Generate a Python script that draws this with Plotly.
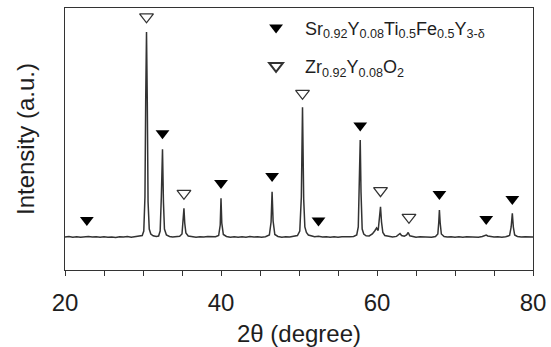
import plotly.graph_objects as go

# ---- data ----
two_theta = [20.0, 20.5, 21.0, 21.5, 22.0, 22.5, 23.0, 23.5, 24.0, 24.5, 25.0, 25.5, 26.0, 26.5,
             27.0, 27.5, 28.0, 28.5, 29.0, 29.5, 29.9, 30.1, 30.25, 30.35, 30.45, 30.55, 30.65,
             30.8, 31.0, 31.3, 31.7, 32.0, 32.2, 32.35, 32.5, 32.62, 32.75, 33.0, 33.4, 33.8,
             34.3, 34.7, 35.0, 35.15, 35.25, 35.35, 35.5, 35.8, 36.3, 36.8, 37.3, 37.8, 38.3,
             38.8, 39.3, 39.7, 39.9, 40.0, 40.1, 40.3, 40.7, 41.2, 41.7, 42.2, 42.7, 43.2, 43.7,
             44.2, 44.7, 45.2, 45.7, 46.2, 46.42, 46.55, 46.68, 46.9, 47.3, 47.8, 48.3, 48.8,
             49.3, 49.8, 50.1, 50.3, 50.45, 50.6, 50.75, 50.95, 51.2, 51.6, 52.0, 52.5, 53.0,
             53.5, 54.0, 54.5, 55.0, 55.5, 56.0, 56.5, 57.0, 57.4, 57.6, 57.75, 57.85, 57.95,
             58.1, 58.3, 58.6, 59.0, 59.4, 59.7, 59.95, 60.15, 60.3, 60.45, 60.58, 60.75, 61.0,
             61.5, 62.0, 62.5, 62.8, 62.95, 63.15, 63.5, 63.8, 64.0, 64.2, 64.6, 65.0, 65.5,
             66.0, 66.5, 67.0, 67.5, 67.8, 67.92, 68.0, 68.1, 68.25, 68.6, 69.0, 69.5, 70.0,
             70.5, 71.0, 71.5, 72.0, 72.5, 73.0, 73.5, 73.8, 74.0, 74.2, 74.6, 75.0, 75.5, 76.0,
             76.5, 77.0, 77.2, 77.35, 77.48, 77.65, 78.0, 78.5, 79.0, 79.5, 80.0]
intensity = [500, 505, 498, 503, 497, 502, 506, 499, 502, 497, 503, 498, 501, 496,
             502, 499, 504, 498, 503, 506, 515, 560, 900, 1900, 2550, 1850, 850,
             580, 530, 512, 505, 510, 560, 900, 1377, 850, 580, 520, 505, 500,
             503, 507, 530, 650, 787, 640, 540, 510, 502, 498, 503, 499, 504,
             500, 502, 515, 620, 887, 640, 525, 505, 498, 503, 497, 502, 498, 504,
             499, 502, 497, 503, 520, 650, 953, 660, 525, 505, 498, 503, 500,
             505, 515, 560, 900, 1797, 880, 600, 545, 520, 508, 503, 508, 499,
             503, 498, 502, 497, 503, 499, 502, 505, 520, 600, 1000, 1470, 950,
             580, 530, 512, 510, 530, 560, 590, 565, 680, 803, 650, 545, 515,
             505, 500, 506, 525, 535, 515, 508, 520, 545, 512, 503, 498, 502,
             499, 503, 498, 505, 530, 650, 770, 640, 530, 505, 499, 503, 497,
             502, 498, 503, 499, 502, 498, 505, 512, 520, 510, 503, 499, 502, 498,
             503, 515, 600, 737, 600, 520, 505, 499, 502, 498, 501]

# peak markers: SrY-TiFe perovskite phase (filled) and YSZ phase (open)
perov_pos = [22.8, 32.5, 40.0, 46.55, 52.5, 57.85, 68.0, 74.0, 77.35]
perov_mark = [670, 1537, 1040, 1110, 664, 1614, 930, 680, 880]
ysz_pos = [30.45, 35.25, 50.45, 60.45, 64.1]
ysz_mark = [2702, 937, 1937, 964, 697]

perov_label = "Sr<sub>0.92</sub>Y<sub>0.08</sub>Ti<sub>0.5</sub>Fe<sub>0.5</sub>Y<sub>3-δ</sub>"
ysz_label = "Zr<sub>0.92</sub>Y<sub>0.08</sub>O<sub>2</sub>"

x_ticks = [20, 40, 60, 80]

FONT = "Liberation Sans, Arial, sans-serif"
TXT = "#1e1e1e"

fig = go.Figure()
fig.add_trace(go.Scatter(x=two_theta, y=intensity, mode="lines",
                         line=dict(color="#333333", width=1.5), showlegend=False,
                         hoverinfo="skip"))
fig.add_trace(go.Scatter(x=perov_pos, y=perov_mark, mode="markers", name=perov_label,
                         legendgroup="a",
                         marker=dict(symbol="triangle-down", size=12, color="black",
                                     line=dict(width=0))))
fig.add_trace(go.Scatter(x=ysz_pos, y=ysz_mark, mode="markers", name=ysz_label,
                         legendgroup="b",
                         marker=dict(symbol="triangle-down-open", size=12, color="#333333",
                                     line=dict(width=1.3))))

fig.update_layout(
    width=551, height=347,
    margin=dict(l=65, r=18, t=8, b=77),
    paper_bgcolor="white", plot_bgcolor="white",
    font=dict(family=FONT, color=TXT, size=24),
    legend=dict(x=0.389, y=0.995, xanchor="left", yanchor="top",
                font=dict(size=18, color=TXT), bgcolor="rgba(0,0,0,0)",
                traceorder="grouped", tracegroupgap=12, itemsizing="constant",
                itemwidth=48),
    xaxis=dict(range=[20, 80], tickvals=x_ticks, ticks="outside", ticklen=5, tickwidth=1.3,
               tickcolor="#333", showline=True, linecolor="#333", linewidth=1.3, mirror=True,
               showgrid=False, zeroline=False, ticklabelstandoff=6, automargin=False,
               tickfont=dict(size=24, color=TXT),
               minor=dict(dtick=5, ticks="outside", ticklen=5, tickwidth=1.3, tickcolor="#333",
                          showgrid=False),
               title=dict(text="2θ (degree)", font=dict(size=24, color=TXT), standoff=12)),
    yaxis=dict(range=[170, 2790], showticklabels=False, ticks="", showline=True,
               linecolor="#333", linewidth=1.3, mirror=True, showgrid=False, zeroline=False,
               automargin=False,
               title=dict(text="Intensity (a.u.)", font=dict(size=24, color=TXT), standoff=22)),
)

fig.write_html("out.html")
